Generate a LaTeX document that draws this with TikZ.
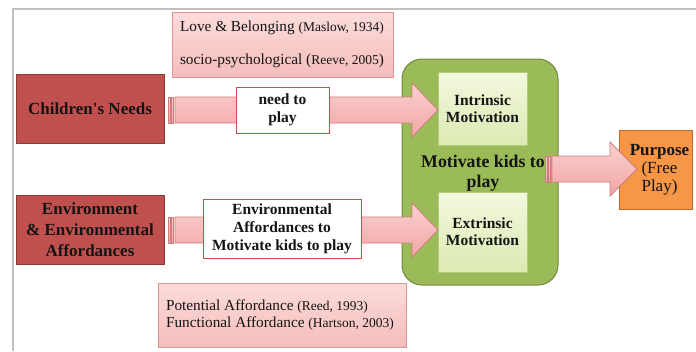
\documentclass[tikz,border=0pt]{standalone}
\usepackage{fontspec}
\setmainfont{Liberation Serif}
\usetikzlibrary{calc}
\definecolor{drkred}{HTML}{C0504D}
\definecolor{drkborder}{HTML}{8C3A38}
\definecolor{pinktop}{HTML}{FBDCDB}
\definecolor{pinkbot}{HTML}{F4BDBB}
\definecolor{pinkborder}{HTML}{D99694}
\definecolor{arrtop}{HTML}{FAD0D0}
\definecolor{arrbot}{HTML}{F2A6A6}
\definecolor{arrborder}{HTML}{CF7C7A}
\definecolor{grn}{HTML}{9BBB59}
\definecolor{grnborder}{HTML}{71893F}
\definecolor{lgtop}{HTML}{F3F8DF}
\definecolor{lgbot}{HTML}{DCEAB2}
\definecolor{lgborder}{HTML}{B3CB7C}
\definecolor{orng}{HTML}{F79646}
\definecolor{orngborder}{HTML}{B66D31}
\definecolor{frame}{HTML}{C0C0C0}
\definecolor{txt}{HTML}{141414}
\newcommand\citefont{\fontsize{13.5}{15}\selectfont}
\newcommand\blockarrow[3]{%
  \path[arrowbody] let \p1=(#1), \p2=(#2) in
    (\x1+7pt,\y1+13pt) -- (\x2-#3pt,\y1+13pt) -- (\x2-#3pt,\y1+27pt) -- (\x2,\y1)
    -- (\x2-#3pt,\y1-27pt) -- (\x2-#3pt,\y1-13pt) -- (\x1+7pt,\y1-13pt) -- cycle;
  \path[arrowbody] let \p1=(#1) in
    (\x1,\y1-13pt) rectangle (\x1+2pt,\y1+13pt)
    (\x1+3.5pt,\y1-13pt) rectangle (\x1+5.5pt,\y1+13pt);
}
\begin{document}
\begin{tikzpicture}[x=1pt,y=-1pt,
  every node/.style={text=txt, inner sep=0pt, outer sep=0pt},
  darkbox/.style={draw=drkborder, fill=drkred, line width=1pt,
    minimum width=148pt, minimum height=69pt, align=center,
    font=\bfseries\fontsize{17}{21}\selectfont},
  pinkbox/.style={draw=pinkborder, top color=pinktop, bottom color=pinkbot,
    line width=0.8pt, align=left, font=\fontsize{15.3}{18}\selectfont},
  labelbox/.style={draw=drkred, fill=white, line width=1pt, align=center,
    font=\bfseries\fontsize{15.5}{18}\selectfont},
  motbox/.style={draw=lgborder, top color=lgtop, bottom color=lgbot, line width=0.8pt,
    minimum width=89pt, align=center, font=\bfseries\fontsize{15.5}{17}\selectfont},
  arrowbody/.style={draw=arrborder, line width=0.8pt, top color=arrtop, bottom color=arrbot},
]
\useasboundingbox (0,0) rectangle (696,351);
\fill[white] (0,0) rectangle (696,351);
% frame
\draw[frame, line width=2pt] (12.5,351) -- (12.5,8.5) -- (696,8.5);

% pink note boxes
\node[pinkbox, minimum width=221pt, minimum height=65pt] (love) at (282.5,44.5)
  {\begin{minipage}{205pt}\baselineskip=33pt Love \& Belonging {\citefont(Maslow, 1934)}\\
   socio-psychological ({\citefont Reeve, 2005})\end{minipage}};
\node[pinkbox, minimum width=248pt, minimum height=64pt] (aff) at (282,315)
  {\begin{minipage}{232pt}\baselineskip=17pt Potential Affordance {\citefont(Reed, 1993)}\\
   Functional Affordance {\citefont(Hartson, 2003)}\end{minipage}};

% source boxes
\node[darkbox] (cn) at (90,108.5) {Children\textquotesingle s Needs};
\node[darkbox] (env) at (90,229.5) {Environment\\\& Environmental\\Affordances};

% motivation group
\node[draw=grnborder, fill=grn, line width=1pt, rounded corners=20pt,
  minimum width=156pt, minimum height=226pt] (green) at (480,172) {};
\node[motbox, minimum height=73pt] (intr) at (482.5,108.5) {Intrinsic\\Motivation};
\node[motbox, minimum height=80pt] (extr) at (482.5,232) {Extrinsic\\Motivation};
\node[align=center, font=\bfseries\fontsize{17.8}{20}\selectfont] (mot) at (483,173) {Motivate kids to\\play};

% purpose
\node[draw=orngborder, fill=orng, line width=1pt, minimum width=73pt, minimum height=79pt,
  align=center, font=\fontsize{17}{18}\selectfont] (purp) at (655.5,169.5)
  {\hspace*{8pt}\textbf{Purpose}\\\hspace*{8pt}(Free\\\hspace*{8pt}Play)};

% arrows
\coordinate (t1) at ($(cn.east)+(4,1.5)$);
\coordinate (h1) at (intr.west |- t1);
\coordinate (t2) at ($(env.east)+(4,0.5)$);
\coordinate (h2) at (extr.west |- t2);
\coordinate (t3) at ($(green.east)+(-13,-3)$);
\coordinate (h3) at ($(purp.west |- t3)+(18,0)$);
\blockarrow{t1}{h1}{26}
\blockarrow{t2}{h2}{26}
\blockarrow{t3}{h3}{27}

% labels on arrows
\node[labelbox, minimum width=93pt, minimum height=46pt] (need) at (282.5,110) {need to\\play};
\node[labelbox, minimum width=158pt, minimum height=59pt] (envlab) at (282,228.5)
  {Environmental\\Affordances to\\Motivate kids to play};
\end{tikzpicture}
\end{document}
